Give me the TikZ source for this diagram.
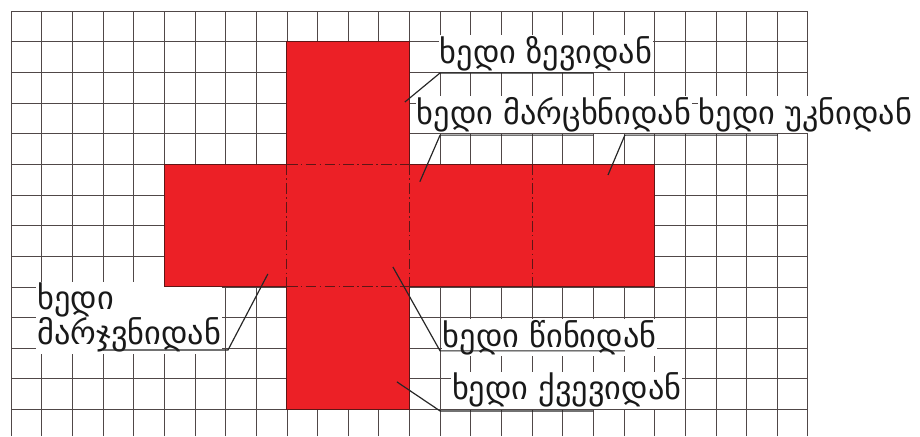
\documentclass[tikz,border=0pt]{standalone}
\usepackage{fontspec}
\newfontfamily\geofont{DejaVu Sans}
\definecolor{crossred}{RGB}{236,32,38}
\definecolor{crossedge}{RGB}{95,22,22}
\definecolor{gridcol}{RGB}{80,72,72}

\begin{document}
\begin{tikzpicture}[x=1cm, y=1cm,
    gridline/.style={gridcol, line width=0.65pt},
    foldline/.style={crossedge, line width=0.7pt, dash pattern=on 10pt off 3pt on 1.5pt off 3pt},
    leader/.style={black!85, line width=1.1pt},
    viewtext/.style={fill=white, inner sep=1pt, anchor=base west, text=black!90,
        font=\geofont\fontsize{30}{33}\selectfont}]
    \useasboundingbox (-0.36,0.36) rectangle (29.66,-13.87);

    % grid paper
    \draw[gridline] (0,-13.87) grid (26,0);

    % labels
    \node[viewtext] (top)   at (13.95,-1.70) {ხედი ზევიდან};
    \node[viewtext] (left)  at (13.20,-3.69) {ხედი მარცხნიდან};
    \node[viewtext] (back)  at (22.40,-3.69) {ხედი უკნიდან};
    \node[viewtext, anchor=north west, align=left] (right) at (0.82,-8.82) {ხედი\\მარჯვნიდან};
    \node[viewtext] (front) at (14.05,-10.98) {ხედი წინიდან};
    \node[viewtext] (down)  at (14.35,-12.69) {ხედი ქვევიდან};

    % unfolded cube
    \fill[crossred, draw=crossedge, line width=0.8pt]
        (9,-1) -- (13,-1) -- (13,-5) -- (21,-5) -- (21,-9) -- (13,-9)
        -- (13,-13) -- (9,-13) -- (9,-9) -- (5,-9) -- (5,-5) -- (9,-5) -- cycle;
    \draw[foldline] (9,-5) -- (13,-5);
    \draw[foldline] (9,-9) -- (13,-9);
    \draw[foldline] (9,-5) -- (9,-9);
    \draw[foldline] (13,-5) -- (13,-9);
    \draw[foldline] (17,-5) -- (17,-9);

    % leader ends on the faces and under the labels
    \coordinate (ptop)   at (12.85,-2.97);
    \coordinate (pleft)  at (13.34,-5.57);
    \coordinate (pback)  at (19.48,-5.35);
    \coordinate (pright) at (8.38,-8.58);
    \coordinate (pfront) at (12.46,-8.35);
    \coordinate (pdown)  at (12.59,-12.10);

    \coordinate (utop1)   at (14,-2.02);  \coordinate (utop2)   at (19,-2.02);
    \coordinate (uleft1)  at (14,-4.05);  \coordinate (uleft2)  at (19,-4.05);
    \coordinate (uback1)  at (20.03,-4.05); \coordinate (uback2) at (25.02,-4.05);
    \coordinate (uright1) at (7.08,-11.06); \coordinate (uright2) at (3,-11.06);
    \coordinate (ufront1) at (14,-11.09); \coordinate (ufront2) at (20.03,-11.09);
    \coordinate (udown1)  at (14,-13.05); \coordinate (udown2)  at (19,-13.05);

    \draw[leader] (ptop) -- (utop1) -- (utop2);
    \draw[leader] (pleft) -- (uleft1) -- (uleft2);
    \draw[leader] (pback) -- (uback1) -- (uback2);
    \draw[leader] (pright) -- (uright1) -- (uright2);
    \draw[leader] (pfront) -- (ufront1) -- (ufront2);
    \draw[leader] (pdown) -- (udown1) -- (udown2);
\end{tikzpicture}
\end{document}
